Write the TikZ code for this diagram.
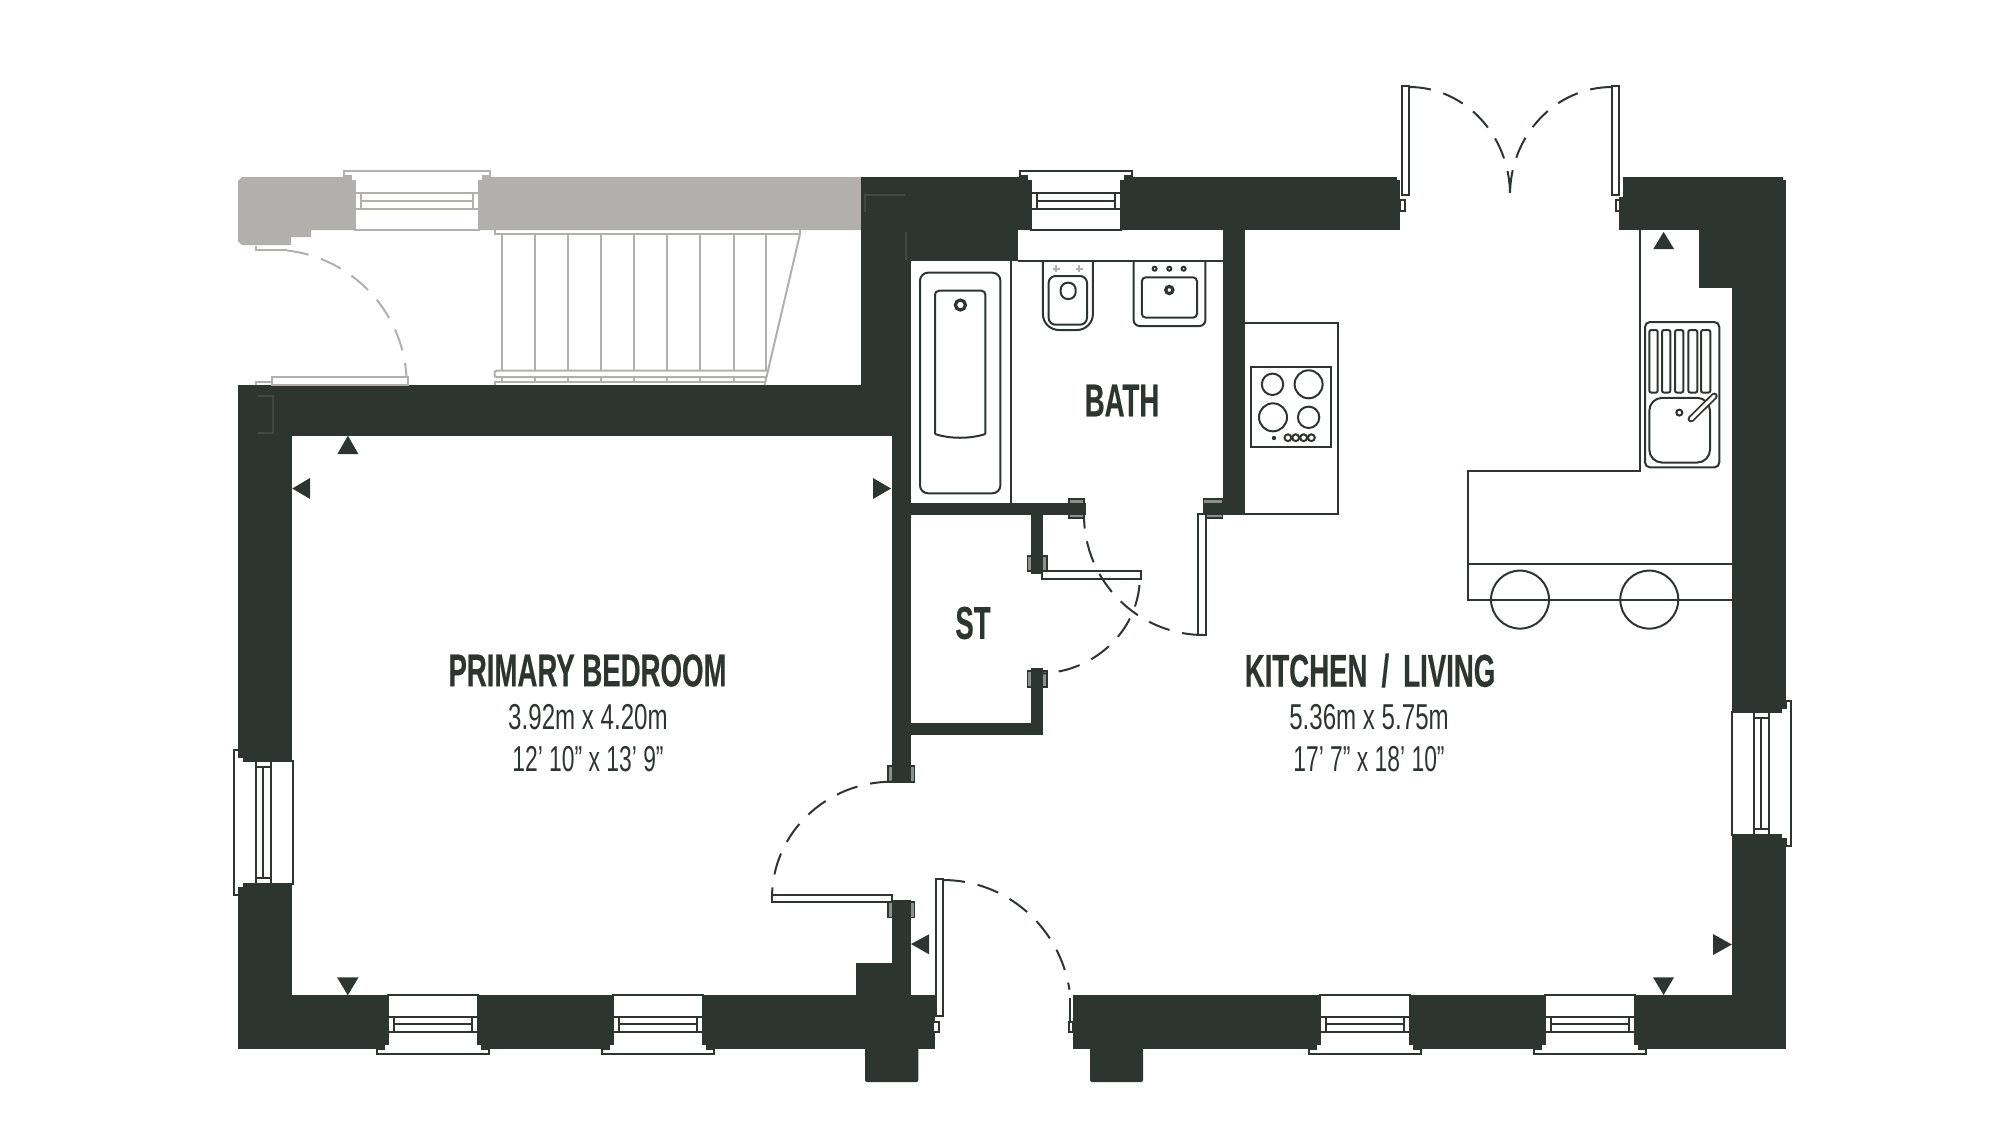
\documentclass[tikz,border=0pt]{standalone}
\usepackage{fontspec}
\newfontfamily\roomfont[FakeStretch=0.6,BoldFeatures={FakeBold=0.4}]{Liberation Sans}
\newfontfamily\sizefont[FakeStretch=0.67]{Liberation Sans}
\newfontfamily\feetfont[FakeStretch=0.635]{Liberation Sans}
\definecolor{wallc}{HTML}{2D3530}
\definecolor{greyc}{HTML}{B1B0AD}
\definecolor{jambc}{HTML}{8C918E}
\definecolor{faintc}{HTML}{414944}
\tikzset{
  wall/.style={fill=wallc,draw=none},
  greywall/.style={fill=greyc,draw=none},
  thin line/.style={draw=wallc,line width=1pt},
  grey line/.style={draw=greyc,line width=1pt},
  faint line/.style={draw=faintc,line width=0.6pt},
  leaf/.style={draw=wallc,fill=white,line width=1pt},
  grey leaf/.style={draw=greyc,fill=white,line width=1pt},
  swing/.style={draw=wallc,line width=1pt,dash pattern=on 11pt off 6.5pt},
  grey swing/.style={draw=greyc,line width=1pt,dash pattern=on 11pt off 6.5pt},
  jamb/.style={draw=wallc,fill=jambc,line width=0.8pt},
  room name/.style={font=\roomfont\bfseries\fontsize{23}{23}\selectfont,text=wallc,inner sep=0pt},
  room size/.style={font=\sizefont\fontsize{18}{18}\selectfont,text=wallc,inner sep=0pt},
  room feet/.style={font=\feetfont\fontsize{18}{18}\selectfont,text=wallc,inner sep=0pt},
}
% centre of inner face x, y, rotation, half width, line colour
\newcommand{\planwindow}[5]{
  \begin{scope}[shift={(#1,#2)},rotate=#3]
    \draw [draw=#5,fill=white,line width=1pt] (-#4,0) -- (#4,0) -- (#4,49) -- (#4+4,49) -- (#4+4,54) -- (#4+11,54) -- (#4+11,59) -- (-#4-11,59) -- (-#4-11,54) -- (-#4-4,54) -- (-#4-4,49) -- (-#4,49) -- cycle;
    \draw [draw=#5,line width=1pt] (-#4,21.5) -- (#4,21.5) (-#4,37) -- (#4,37) (-#4+6,29.2) -- (#4-6,29.2) (-#4+6,21.5) -- (-#4+6,37) (#4-6,21.5) -- (#4-6,37);
  \end{scope}
}
\begin{document}
\begin{tikzpicture}[x=0.5pt,y=0.5pt,yscale=-1,xscale=1]
\useasboundingbox (0,0) rectangle (2000,1136);

%Grey wall
\fill [greywall] (242,177) -- (861,177) -- (861,230) -- (311,230) -- (311,237) -- (291,237) -- (291,245) -- (242,245) -- (238,241) -- (238,181) -- cycle;

%Dark walls
\fill [wall] (861,177) rectangle (1397,230);
\fill [wall] (1397,180) rectangle (1400,230);
\fill [wall] (861,177) rectangle (911,435.7);
\fill [wall] (238,385) rectangle (911,435.7);
\fill [wall] (861,230) rectangle (1018,260.7);
\fill [wall] (891.7,435) rectangle (911,781.7);
\fill [wall] (911,502.7) rectangle (1084,515);
\fill [wall] (1222.5,230) rectangle (1245.4,515);
\fill [wall] (1030.7,515) rectangle (1043.3,571);
\fill [wall] (1030.7,686.7) rectangle (1043.3,735);
\fill [wall] (911,722.7) rectangle (1043.3,735);
\fill [wall] (238,385) rectangle (292.3,1049);
\fill [wall] (238,995) rectangle (935,1049);
\fill [wall] (891.7,917) rectangle (911,995);
\fill [wall] (856,962.7) rectangle (891.7,995);
\fill [wall, rounded corners=1pt] (865,1040) rectangle (918.3,1082);
\fill [wall] (1073.3,995) rectangle (1786,1049);
\fill [wall, rounded corners=1pt] (1090,1040) rectangle (1143,1082);
\fill [wall] (1623,177) rectangle (1783,230);
\fill [wall] (1619,197) rectangle (1623,230);
\fill [wall] (1731.7,180) rectangle (1786,1049);
\fill [wall] (1699.3,177) rectangle (1732,287.8);

%Marks inside the walls
\draw [faint line] (258,396) -- (273,396) -- (273,433) -- (258,433);
\draw [faint line] (865,212) -- (865,195) -- (905,195);
\draw [faint line] (906,232) -- (906,260);

%Windows
\planwindow{417}{230}{180}{62}{greyc}
\planwindow{1076}{230}{180}{45}{wallc}
\planwindow{433}{995}{0}{45}{wallc}
\planwindow{658}{995}{0}{45}{wallc}
\planwindow{1365}{995}{0}{45}{wallc}
\planwindow{1590}{995}{0}{45}{wallc}
\planwindow{292.5}{822}{90}{61.5}{wallc}
\planwindow{1732}{773}{-90}{61.5}{wallc}

%Door jambs
\draw [jamb] (1069,499) rectangle (1084,518);
\fill [wall] (1069,502.7) rectangle (1086,515);
\draw [jamb] (1203.6,499) rectangle (1222.5,518);
\fill [wall] (1203.6,502.7) rectangle (1222.5,515);
\draw [jamb] (1027.3,556) rectangle (1046.7,571);
\fill [wall] (1030.7,556) rectangle (1043.3,574);
\draw [jamb] (1027.3,670.7) rectangle (1046.7,686.7);
\fill [wall] (1030.7,668) rectangle (1043.3,686.7);
\draw [jamb] (888,765.7) rectangle (914.3,781.7);
\fill [wall] (891.7,765.7) rectangle (911,783);
\draw [jamb] (888,901.7) rectangle (914.3,917.3);
\fill [wall] (891.7,899.5) rectangle (911,917.3);

%Stairs
\draw [grey line] (494.5,230) -- (494.5,234) -- (800,234) -- (800,230);
\draw [grey line] (502,234) -- (502,371) (535,234) -- (535,371) (568,234) -- (568,371) (601,234) -- (601,371) (634,234) -- (634,371) (667,234) -- (667,371) (700,234) -- (700,371) (733.5,234) -- (733.5,371) (766.4,234) -- (766.4,371);
\draw [grey line, rounded corners=1pt] (767,370.7) -- (494.5,370.7) -- (494.5,377) -- (767,377);
\draw [grey line] (494.5,385) -- (494.5,381.7) -- (766,381.7);
\draw [grey line] (502,377) -- (502,381.7) (535,377) -- (535,381.7) (568,377) -- (568,381.7) (601,377) -- (601,381.7) (634,377) -- (634,381.7) (667,377) -- (667,381.7) (700,377) -- (700,381.7) (733.5,377) -- (733.5,381.7);
\draw [grey line] (800,234) -- (764.6,385);

%Grey door
\draw [grey leaf] (272,376.7) rectangle (407.5,385);
\draw [grey line] (256,385) -- (256,381.7) -- (272,381.7);
\draw [grey line] (256,246) -- (256,250) -- (287,250);
\draw [grey swing] (287,250.5) arc [start angle=-83.5, end angle=-3, x radius=135, y radius=135];

%Entrance door
\draw [leaf] (935.7,879) rectangle (943.3,1015.7);
\draw [leaf] (933,1021.7) rectangle (939,1032);
\draw [leaf] (1069,1021.7) rectangle (1073.3,1032);
\draw [thin line] (1070,1021) -- (1070,998);
\draw [swing] (943,880) arc [start angle=-90, end angle=-9, x radius=128, y radius=130];
\fill [wallc] (911,944) -- (929,934.3) -- (929,954.3) -- cycle;

%Bedroom door
\draw [leaf] (772.3,895) -- (892.3,895) -- (892.3,901.7) -- (772.3,901.7) -- cycle;
\draw [swing] (892,781.7) arc [start angle=-90, end angle=-180, x radius=120, y radius=116];

%Store door
\draw [leaf] (1042.3,571) rectangle (1141,579);
\draw [swing] (1139.5,585) arc [start angle=5, end angle=90, x radius=102, y radius=97];

%Bath door
\draw [leaf] (1198.3,514) rectangle (1205.7,635);
\draw [swing] (1204,635) arc [start angle=90, end angle=180, x radius=120, y radius=120];

%French doors
\draw [leaf] (1401.7,86) rectangle (1409.3,195);
\draw [leaf] (1611.7,86) rectangle (1619,195);
\draw [leaf] (1400,199.6) rectangle (1405,210.7);
\draw [leaf] (1615.7,199.6) rectangle (1620,210.7);
\draw [swing] (1409,87) arc [start angle=-90, end angle=0, x radius=101, y radius=108];
\draw [swing] (1612,87) arc [start angle=-90, end angle=-180, x radius=102, y radius=108];

%Bath
\draw [thin line] (1018,260.7) -- (1222.5,260.7);
\draw [thin line] (1010.7,260.7) -- (1010.7,502.7);
\draw [thin line, rounded corners=4pt] (920,272.7) rectangle (1000.4,493.3);
\draw [thin line, rounded corners=2pt] (935,434) -- (935,290.7) -- (985.4,290.7) -- (985.4,434);
\draw [thin line] (935,434) .. controls (950,439) and (970,439) .. (985.4,434);
\draw [draw=wallc, line width=1.6pt] (960.4,305) circle [radius=5];

%WC
\draw [thin line, rounded corners=8pt] (1042.9,260.7) -- (1042.9,330) -- (1092.9,330) -- (1092.9,260.7);
\draw [thin line, rounded corners=3.5pt] (1048.6,276) rectangle (1087,324.7);
\draw [thin line, rounded corners=3.5pt] (1060.7,282.7) -- (1075.7,282.7) -- (1075.7,299) -- (1060.7,299) -- cycle;
\draw [grey line] (1052.9,268.7) -- (1059.9,268.7) (1056.4,265.2) -- (1056.4,272.2) (1075.8,268.7) -- (1082.8,268.7) (1079.3,265.2) -- (1079.3,272.2);

%Basin
\draw [thin line, rounded corners=3pt] (1133.6,260.7) -- (1133.6,326) -- (1205.4,326) -- (1205.4,260.7);
\draw [thin line, rounded corners=2pt] (1141.8,277.3) rectangle (1197,317.7);
\draw [draw=wallc, line width=1.6pt] (1169.3,290) circle [radius=3.6];
\draw [thin line] (1154.6,268.7) circle [radius=2] (1169.3,268.7) circle [radius=2] (1183.6,268.7) circle [radius=2];

%Hob unit
\draw [thin line] (1245.4,322.7) -- (1337.5,322.7) -- (1337.5,514.3) -- (1245.4,514.3);
\draw [thin line] (1251.4,367.3) rectangle (1330.7,446.7);
\draw [thin line] (1272.5,384.3) circle [radius=10.7] (1308.6,384.3) circle [radius=14] (1273,417.3) circle [radius=14] (1308.6,417.3) circle [radius=10.7];
\fill [wallc] (1274,438) circle [radius=2.2];
\draw [thin line] (1287.9,437.7) circle [radius=3.4] (1295.7,437.7) circle [radius=3.4] (1303.6,437.7) circle [radius=3.4] (1311.4,437.7) circle [radius=3.4];

%Kitchen counter
\draw [thin line] (1640,230.4) -- (1640,470.7) -- (1468,470.7) -- (1468,600.4) -- (1731.7,600.4);
\draw [thin line] (1468,563.7) -- (1731.7,563.7);
\draw [thin line] (1520,599.6) circle [radius=29] (1649.3,599.6) circle [radius=29];

%Sink
\draw [thin line, rounded corners=2.5pt] (1645,322) rectangle (1719.3,467.4);
\draw [thin line, rounded corners=1pt] (1649.3,330) rectangle (1657.7,392.6) (1662,330) rectangle (1670.3,392.6) (1675,330) rectangle (1683.3,392.6) (1688.3,330) rectangle (1697.3,392.6) (1701,330) rectangle (1710.3,392.6);
\draw [thin line, rounded corners=6.5pt] (1649.3,397.8) rectangle (1710,462.6);
\draw [thin line] (1679.3,412.6) circle [radius=3];
\draw [draw=wallc, line width=3.4pt, line cap=round] (1691,419) -- (1714.3,396);
\draw [draw=white, line width=1.6pt, line cap=round] (1691,419) -- (1714.3,396);

%Level markers
\fill [wallc] (347.9,435.7) -- (358.4,454) -- (337.4,454) -- cycle;
\fill [wallc] (292.3,488.5) -- (310,478) -- (310,499) -- cycle;
\fill [wallc] (891,488.5) -- (873,478) -- (873,499) -- cycle;
\fill [wallc] (347.8,995.3) -- (337,977.3) -- (358.6,977.3) -- cycle;
\fill [wallc] (1663.6,995) -- (1653,977.3) -- (1674,977.3) -- cycle;
\fill [wallc] (1731.8,944.5) -- (1713,934) -- (1713,955) -- cycle;
\fill [wallc] (1663.6,231.9) -- (1674,249) -- (1653.3,249) -- cycle;

% Text Node
\node [room name] (bedroomname) at (587.5,670.5) {PRIMARY BEDROOM};
\node [room size] (bedroomsizem) at (588,717) {3.92m x 4.20m};
\node [room feet] (bedroomsizeft) at (588,759) {12’ 10” x 13’ 9”};
\node [room name] (kitchenname) at (1370,670.5) {KITCHEN\hspace{3.2pt} /\hspace{3.2pt} LIVING};
\node [room size] (kitchensizem) at (1369,717) {5.36m x 5.75m};
\node [room feet] (kitchensizeft) at (1369,759) {17’ 7” x 18’ 10”};
\node [room name] (bathname) at (1122,400.5) {BATH};
\node [room name] (storename) at (973,623) {ST};
\end{tikzpicture}
\end{document}
